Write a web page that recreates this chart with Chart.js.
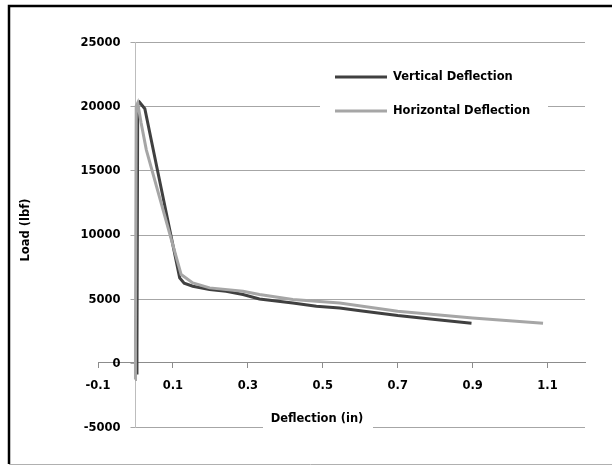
<!DOCTYPE html>
<html>
<head>
<meta charset="utf-8">
<script src="https://cdn.jsdelivr.net/npm/chart.js@4.4.0/dist/chart.umd.min.js"></script>
<style>
  html, body { margin: 0; padding: 0; background: #fff; }
  #wrap { width: 613px; height: 465px; position: relative; }
</style>
</head>
<body>
<div id="wrap"><canvas id="loadChart"></canvas></div>
<script>
// tick labels
const xTicks = [-0.1, 0.1, 0.3, 0.5, 0.7, 0.9, 1.1];
const yTicks = [-5000, 0, 5000, 10000, 15000, 20000, 25000];

// Vertical Deflection (in) vs load (lbf)
const vertX = [0.002, 0.004, 0.006, 0.011, 0.025, 0.056, 0.118, 0.130, 0.153, 0.198, 0.242, 0.287, 0.331, 0.420, 0.483, 0.545, 0.600, 0.700, 0.800, 0.897];
const vertY = [-800, 1000, 20100, 20300, 19800, 15400, 6620, 6200, 5970, 5710, 5580, 5320, 4980, 4670, 4410, 4280, 4050, 3680, 3380, 3085];

// Horizontal Deflection
const horzX = [-0.001, 0.000, 0.002, 0.006, 0.015, 0.029, 0.091, 0.122, 0.153, 0.198, 0.287, 0.331, 0.420, 0.483, 0.545, 0.700, 0.900, 1.088];
const horzY = [-1300, 2000, 20000, 20250, 18700, 16600, 10100, 6880, 6230, 5840, 5580, 5320, 4930, 4800, 4670, 4020, 3500, 3085];

const FONT = "'DejaVu Sans', sans-serif";
const BOLD = "bold 11.5px " + FONT;

function toPoints(xs, ys) {
  return xs.map((x, i) => ({ x: x, y: ys[i] }));
}

// gridlines start at the y axis (x = 0), like the original sheet
const gridPlugin = {
  id: 'gridFromAxis',
  beforeDraw(chart) {
    const ctx = chart.ctx;
    const xs = chart.scales.x, ys = chart.scales.y;
    const area = chart.chartArea;
    ctx.save();
    ctx.fillStyle = '#fff';
    ctx.fillRect(0, 0, chart.width, chart.height);
    ctx.strokeStyle = '#a6a6a6';
    ctx.lineWidth = 1;
    const x0 = Math.round(xs.getPixelForValue(0)) + 0.5;
    ys.ticks.forEach(t => {
      const y = Math.round(ys.getPixelForValue(t.value)) + 0.5;
      ctx.beginPath();
      ctx.moveTo(x0 - 5, y);
      ctx.lineTo(t.value === 0 ? x0 : area.right, y);
      ctx.stroke();
    });
    ctx.restore();
  }
};

const decorPlugin = {
  id: 'decor',
  afterDatasetsDraw(chart) {
    const ctx = chart.ctx;
    const xs = chart.scales.x, ys = chart.scales.y;
    ctx.save();
    // y tick labels, to the left of the axis at x = 0
    ctx.font = BOLD;
    ctx.fillStyle = '#000';
    ctx.textAlign = 'right';
    ctx.textBaseline = 'middle';
    const x0 = xs.getPixelForValue(0);
    ys.ticks.forEach(t => {
      ctx.fillText(String(t.value), x0 - 15, ys.getPixelForValue(t.value) + 1);
    });

    // legend
    ctx.fillStyle = '#fff';
    ctx.fillRect(320, 60, 228, 66);
    ctx.textAlign = 'left';
    const rows = [77, 111];
    chart.data.datasets.forEach((ds, i) => {
      ctx.strokeStyle = ds.borderColor;
      ctx.lineWidth = 3;
      ctx.beginPath();
      ctx.moveTo(335, rows[i]);
      ctx.lineTo(387, rows[i]);
      ctx.stroke();
      ctx.fillStyle = '#000';
      ctx.fillText(ds.label, 393, rows[i]);
    });
    // x axis title
    ctx.fillStyle = '#fff';
    ctx.fillRect(263, 410, 110, 20);
    ctx.fillStyle = '#000';
    ctx.textAlign = 'center';
    ctx.fillText('Deflection (in)', 317, 419);
    // y axis title
    ctx.translate(26, 230);
    ctx.rotate(-Math.PI / 2);
    ctx.fillText('Load (lbf)', 0, 0);
    ctx.restore();

    // frame
    ctx.save();
    ctx.strokeStyle = '#000';
    ctx.lineWidth = 2.5;
    ctx.beginPath();
    ctx.moveTo(9, 464);
    ctx.lineTo(9, 6);
    ctx.lineTo(612, 6);
    ctx.stroke();
    ctx.strokeStyle = '#b0b0b0';
    ctx.lineWidth = 1;
    ctx.beginPath();
    ctx.moveTo(9, 464.5);
    ctx.lineTo(612, 464.5);
    ctx.stroke();
    ctx.restore();
  }
};

new Chart(document.getElementById('loadChart'), {
  type: 'scatter',
  data: {
    datasets: [
      {
        label: 'Vertical Deflection',
        data: toPoints(vertX, vertY),
        showLine: true,
        borderColor: '#404040',
        borderWidth: 3,
        pointRadius: 0,
        tension: 0,
        order: 1
      },
      {
        label: 'Horizontal Deflection',
        data: toPoints(horzX, horzY),
        showLine: true,
        borderColor: '#a6a6a6',
        borderWidth: 3,
        pointRadius: 0,
        tension: 0,
        order: 0
      }
    ]
  },
  options: {
    responsive: true,
    maintainAspectRatio: false,
    animation: false,
    layout: { padding: { left: 98, top: 42, right: 28, bottom: 38 } },
    scales: {
      x: {
        type: 'linear',
        min: -0.1,
        max: 1.2,
        position: { y: 0 },
        afterBuildTicks: s => { s.ticks = xTicks.map(v => ({ value: v })); },
        ticks: {
          autoSkip: false,
          maxRotation: 0,
          padding: 11,
          color: '#000',
          font: { family: FONT, size: 11.5, weight: 'bold' },
          callback: v => String(v)
        },
        grid: { drawOnChartArea: false, tickLength: 5, color: '#8c8c8c' },
        border: { color: '#8c8c8c', width: 1 }
      },
      y: {
        type: 'linear',
        min: -5000,
        max: 25000,
        position: { x: 0 },
        afterBuildTicks: s => { s.ticks = yTicks.map(v => ({ value: v })); },
        ticks: { display: false },
        grid: { drawOnChartArea: false, drawTicks: false, color: '#a6a6a6' },
        border: { color: '#bdbdbd', width: 1 }
      }
    },
    plugins: {
      legend: { display: false },
      tooltip: { enabled: false }
    }
  },
  plugins: [gridPlugin, decorPlugin]
});
</script>
</body>
</html>
